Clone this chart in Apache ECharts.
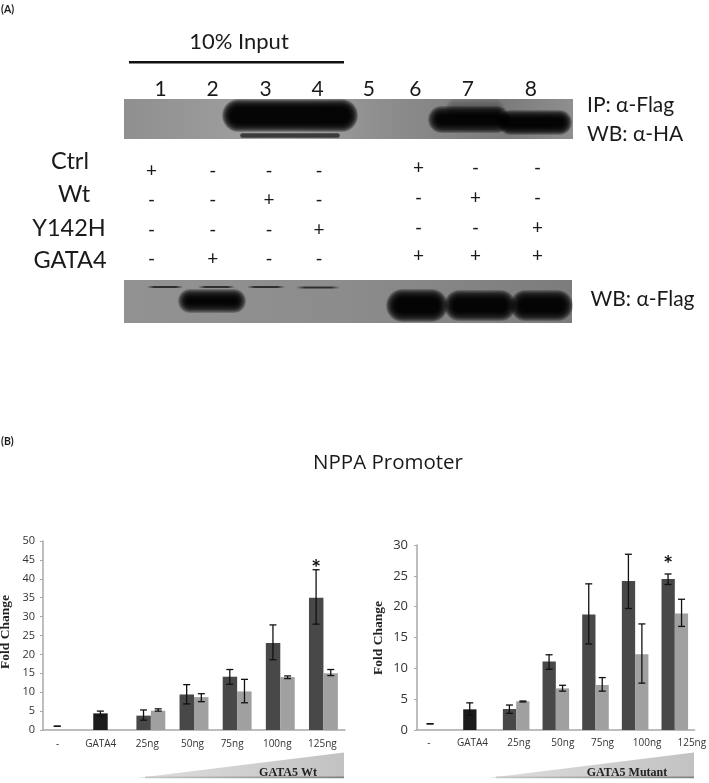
<!DOCTYPE html>
<html><head><meta charset="utf-8">
<style>html,body{margin:0;padding:0;background:#fff}#c{width:709px;height:783px;filter:blur(0.45px)}</style>
<script src="https://cdn.jsdelivr.net/npm/echarts@6/dist/echarts.min.js"></script>
</head><body><div id="c"></div>
<script>
// ---------- Panel B data ----------
const categories = ['-', 'GATA4', '25ng', '50ng', '75ng', '100ng', '125ng'];
const wtDark  = [null, 4.4, 3.8, 9.4, 14.1, 23, 35];
const wtLight = [null, null, 5.1, 8.7, 10.2, 14, 15];
const wtDarkLow   = [1, 3.8, 2.6, 6.9, 12.1, 18.6, 28];
const wtDarkHigh  = [1, 5, 5.3, 12, 16, 27.8, 42.4];
const wtLightLow  = [null, null, 5, 7.5, 7.2, 13.6, 14.4];
const wtLightHigh = [null, null, 5.6, 9.6, 13.4, 14.3, 16];
const mutDark  = [null, 3.35, 3.4, 11.1, 18.75, 24.15, 24.5];
const mutLight = [null, null, 4.65, 6.75, 7.3, 12.3, 18.9];
const mutDarkLow   = [1, 2.4, 2.7, 9.85, 13.95, 19.7, 23.6];
const mutDarkHigh  = [1, 4.4, 4.05, 12.2, 23.7, 28.5, 25.3];
const mutLightLow  = [null, null, 4.55, 6.3, 6.3, 7.6, 16.8];
const mutLightHigh = [null, null, 4.7, 7.25, 8.5, 17.2, 21.2];
const wtStar = 42.7;   // value height of the asterisk, 125ng
const mutStar = 26.8;

// ---------- Panel A text ----------
const laneNumbers = ['1','2','3','4','5','6','7','8'];
const rowNames = ['Ctrl','Wt','Y142H','GATA4'];
const marksLeft  = [['+','-','-','-'],['-','-','+','-'],['-','-','-','+'],['-','+','-','-']];
const marksRight = [['+','-','-'],['-','+','-'],['-','-','+'],['+','+','+']];

// ---------- Layout ----------
const laneX = [160.6,212.7,265.6,317.6,368.8,415.4,467.9,530.8];
const rowNameX = [70,74,69,70], rowNameY = [161,194,228,260];
const colLeftX = [151.6,212.7,269,319], rowLeftY = [171,200,230,259];
const colRightX = [418.6,475.6,537.6], rowRightY = [168,198,228,256];
const wtShift  = [-7,-7,-3.5,-1.5,-5,-3,-1];
const mutShift = [-8,-4,2.7,7,7,12,17];

const DARK='#484848', LIGHT='#a0a0a0', BLACK='#1c1c1c';
const SANS="Lato, 'Open Sans', 'DejaVu Sans', sans-serif";
const SERIF="'Liberation Serif', serif";

function txt(x,y,text,size,extra){
  return {type:'text',x:x,y:y,silent:true,style:Object.assign({text:text,fill:'#1a1a1a',font:size+'px '+SANS,align:'center',verticalAlign:'middle'},extra||{})};
}
function linear(x,y,x2,y2,stops){
  return {type:'linear',x:x,y:y,x2:x2,y2:y2,colorStops:stops.map(s=>({offset:s[0],color:s[1]}))};
}
function rect(x,y,w,h,fill,r){
  return {type:'rect',silent:true,shape:{x:x,y:y,width:w,height:h,r:r||0},style:{fill:fill}};
}
// soft-edged blot band: many nested, faint rounded rects
function band(x,y,w,h,soft,core,alpha){
  const n=14;
  for(let i=0;i<n;i++){
    const k=i*soft/(n-1);
    const hw=w-2*k, hh=h-2*k;
    if(hw<=0||hh<=0) continue;
    g.push({type:'rect',silent:true,shape:{x:x+k,y:y+k,width:hw,height:hh,r:hh/2},
      style:{fill:core||'#000',opacity:alpha||0.2}});
  }
}
function faintLine(x,y,w){
  g.push(rect(x,y,w,2,linear(0,0,1,0,[[0,'rgba(30,30,30,0)'],[0.2,'rgba(30,30,30,0.85)'],[0.8,'rgba(30,30,30,0.85)'],[1,'rgba(30,30,30,0)']])));
}
const g=[];
// labels
g.push(txt(1,10,'(A)',11,{align:'left',font:'bold 10.5px '+SANS}));
g.push(txt(1,442,'(B)',11,{align:'left',font:'bold 10.5px '+SANS}));
g.push(txt(239,42,'10% Input',22));
g.push(rect(129,61,215,2.6,'#111'));
laneNumbers.forEach((t,i)=>g.push(txt(laneX[i],89,t,21)));
// top blot
g.push(rect(124,99,449,40,linear(0,0,1,0,[[0,'#8f8f8f'],[0.35,'#a2a2a2'],[0.6,'#8c8c8c'],[0.85,'#7b7b7b'],[1,'#8f8f8f']])));
band(240,133,100,5,2,'#3a3a3a',0.3);
band(445,99,60,20,8,'#555',0.1);
band(222,99,136,33,9);
band(428,106,82,27,10);
band(498,110,74,25,9);
// bottom blot
g.push(rect(124,280,448,43,linear(0,0,1,0,[[0,'#929292'],[0.5,'#8c8c8c'],[1,'#7c7c7c']])));
faintLine(147,286,36);faintLine(198,286,37);faintLine(247,286,38);faintLine(296,286.5,44);
band(178,289,68,24,10);
band(386,289,62,33,10);
band(444,290,72,31,10);
band(510,290,63,31,10);
// row names and marks
rowNames.forEach((t,i)=>{
  g.push(txt(rowNameX[i],rowNameY[i],t,23.5));
  marksLeft[i].forEach((m,j)=>g.push(txt(colLeftX[j],rowLeftY[i],m,19)));
  marksRight[i].forEach((m,j)=>g.push(txt(colRightX[j],rowRightY[i],m,19)));
});
g.push(txt(587,105,'IP: α-Flag',21,{align:'left'}));
g.push(txt(587,134,'WB: α-HA',21,{align:'left'}));
g.push(txt(590.5,299,'WB: α-Flag',21,{align:'left'}));
g.push(txt(388,463,'NPPA Promoter',20.5,{font:"20.5px 'Open Sans', sans-serif"}));
// dose triangles
[[137,344,288,'GATA5 Wt'],[488,694,627,'GATA5 Mutant']].forEach(t=>{
  g.push({type:'polygon',silent:true,shape:{points:[[t[0],778],[t[1],752.5],[t[1],778]]},
    style:{fill:linear(0,0,1,0,[[0,'#dedede'],[1,'#c2c2c2']])}});
  g.push(rect(t[0]+8,776.6,t[1]-t[0]-8,1.6,linear(0,0,1,0,[[0,'#c8c8c8'],[1,'#808080']])));
  g.push(txt(t[2],773,t[3],11.5,{font:"bold 12px "+SERIF,fill:'#222'}));
});
g.push({type:'text',x:6,y:632,rotation:Math.PI/2,silent:true,style:{text:'Fold Change',font:'bold 13.5px '+SERIF,fill:'#222',align:'center',verticalAlign:'middle'}});
g.push({type:'text',x:379,y:638,rotation:Math.PI/2,silent:true,style:{text:'Fold Change',font:'bold 13.5px '+SERIF,fill:'#222',align:'center',verticalAlign:'middle'}});

// error bars through the library's scales
function errorItem(slot){
  return function(params,api){
    const lo=api.value(1), hi=api.value(2);
    if(lo==null||hi==null||isNaN(lo)||isNaN(hi)) return null;
    const bw=api.size([1,0])[0];
    const x=api.coord([api.value(0),lo])[0]+slot*bw*0.17;
    const y1=api.coord([api.value(0),lo])[1], y2=api.coord([api.value(0),hi])[1];
    const cap=3.5;
    const ls={stroke:'#111',lineWidth:1.3};
    return {type:'group',silent:true,children:[
      {type:'line',shape:{x1:x,y1:y1,x2:x,y2:y2},style:ls},
      {type:'line',shape:{x1:x-cap,y1:y1,x2:x+cap,y2:y1},style:ls},
      {type:'line',shape:{x1:x-cap,y1:y2,x2:x+cap,y2:y2},style:ls}]};
  };
}
function starItem(params,api){
  const bw=api.size([1,0])[0];
  const p=api.coord([api.value(0),api.value(1)]);
  return {type:'text',silent:true,x:p[0]-bw*0.17,y:p[1],style:{text:'*',font:'bold 23px '+SANS,fill:'#111',align:'center',verticalAlign:'middle'}};
}
function triples(lo,hi){return categories.map((c,i)=>[i,lo[i],hi[i]]);}
function seriesFor(idx,dark,light,dl,dh,ll,lh,star){
  const darkData=dark.map((v,i)=>i===1?{value:v,itemStyle:{color:BLACK}}:v);
  return [
    {type:'bar',xAxisIndex:idx,yAxisIndex:idx,data:darkData,barWidth:'33.5%',barGap:0,itemStyle:{color:DARK},silent:true,animation:false},
    {type:'bar',xAxisIndex:idx,yAxisIndex:idx,data:light,barWidth:'33.5%',barGap:0,itemStyle:{color:LIGHT},silent:true,animation:false},
    {type:'custom',xAxisIndex:idx,yAxisIndex:idx,data:triples(dl,dh),renderItem:errorItem(-1),encode:{x:0,y:[1,2]},animation:false,z:5},
    {type:'custom',xAxisIndex:idx,yAxisIndex:idx,data:triples(ll,lh),renderItem:errorItem(1),encode:{x:0,y:[1,2]},animation:false,z:5},
    {type:'custom',xAxisIndex:idx,yAxisIndex:idx,data:[[6,star]],renderItem:starItem,encode:{x:0,y:1},animation:false,z:6}
  ];
}
function xAxis(idx,shift,size,margin){
  const rich={};
  shift.forEach((s,i)=>{
    rich['k'+i]={fontFamily:"'Open Sans',sans-serif",fontSize:size,color:'#333',
      padding:s<0?[0,-2*s,0,0]:[0,0,0,2*s]};
  });
  return {type:'category',gridIndex:idx,data:categories,
    axisLine:{lineStyle:{color:'#a8a8a8',width:1.5}},axisTick:{show:false},
    axisLabel:{interval:0,margin:margin,hideOverlap:false,
      formatter:(v,i)=>'{k'+i+'|'+v+'}',rich:rich}};
}
function yAxis(idx,max,step,size,margin){
  return {type:'value',gridIndex:idx,min:0,max:max,interval:step,splitLine:{show:false},
    axisLine:{show:true,lineStyle:{color:'#a8a8a8',width:1.5}},
    axisTick:{show:true,length:3,lineStyle:{color:'#a8a8a8'}},
    axisLabel:{fontFamily:"'Open Sans',sans-serif",fontSize:size,color:'#333',margin:margin}};
}
const chart=echarts.init(document.getElementById('c'),null,{renderer:'canvas'});
chart.setOption({
  animation:false,
  grid:[{left:43,top:541,width:302,height:189},{left:417,top:545,width:280,height:185}],
  xAxis:[xAxis(0,wtShift,10,9),xAxis(1,mutShift,10,8)],
  yAxis:[yAxis(0,50,5,11,8),yAxis(1,30,5,13,9)],
  series:seriesFor(0,wtDark,wtLight,wtDarkLow,wtDarkHigh,wtLightLow,wtLightHigh,wtStar)
    .concat(seriesFor(1,mutDark,mutLight,mutDarkLow,mutDarkHigh,mutLightLow,mutLightHigh,mutStar)),
  graphic:{elements:g}
});
</script></body></html>
